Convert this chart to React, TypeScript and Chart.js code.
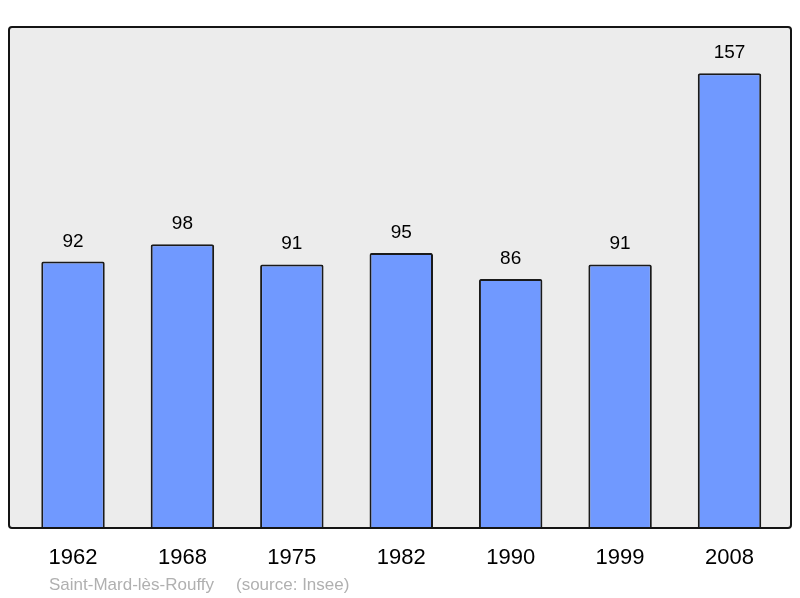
import React, { useEffect, useRef } from "react";
import { Chart, registerables } from "chart.js";
Chart.register(...registerables);

const years = ["1962", "1968", "1975", "1982", "1990", "1999", "2008"];
const population = [92, 98, 91, 95, 86, 91, 157];
const commune = "Saint-Mard-lès-Rouffy";
const source = "(source: Insee)";

const FONT = "'Liberation Sans', Arial, sans-serif";

export default function App() {
  const ref = useRef<HTMLCanvasElement>(null);
  useEffect(() => {
    if (!ref.current) return;
    const framePlugin = {
      id: "frame",
      beforeDatasetsDraw(chart: any) {
        const { ctx, chartArea: a } = chart;
        ctx.save();
        ctx.beginPath();
        ctx.roundRect(a.left, a.top, a.right - a.left, a.bottom - a.top, 3);
        ctx.fillStyle = "#ececec";
        ctx.fill();
        ctx.restore();
      },
      afterDatasetsDraw(chart: any) {
        const { ctx, chartArea: a } = chart;
        ctx.save();
        ctx.beginPath();
        ctx.roundRect(a.left, a.top, a.right - a.left, a.bottom - a.top, 3);
        ctx.lineWidth = 2;
        ctx.strokeStyle = "#141414";
        ctx.stroke();
        const meta = chart.getDatasetMeta(0);
        ctx.font = `19px ${FONT}`;
        ctx.textAlign = "center";
        ctx.textBaseline = "alphabetic";
        ctx.fillStyle = "#000";
        meta.data.forEach((el: any, i: number) => {
          ctx.fillText(String(population[i]), el.x, el.y - 15);
        });
        ctx.font = `17px ${FONT}`;
        ctx.fillStyle = "#b0b0b0";
        ctx.textAlign = "left";
        ctx.textBaseline = "middle";
        ctx.fillText(commune, a.left + 40, a.bottom + 57);
        ctx.fillText(source, a.left + 227, a.bottom + 57);
        ctx.restore();
      },
    };
    const chart = new Chart(ref.current, {
      type: "bar",
      data: {
        datasets: [
          {
            data: population.map((v, i) => ({ x: i, y: v })),
            backgroundColor: "#7099ff",
            borderColor: "#1a1a1a",
            borderWidth: 2,
            borderRadius: 2,
            borderSkipped: "bottom",
            barPercentage: 0.58,
            categoryPercentage: 1,
          },
        ],
      },
      options: {
        animation: false,
        responsive: false,
        layout: { padding: { left: 9, right: 9, top: 27, bottom: 0 } },
        plugins: { legend: { display: false }, tooltip: { enabled: false } },
        scales: {
          x: {
            type: "linear",
            offset: false,
            min: -0.585,
            max: 6.562,
            grid: { display: false, drawTicks: false, offset: false },
            border: { display: false },
            afterBuildTicks: (scale: any) => {
              scale.ticks = years.map((_, i) => ({ value: i }));
            },
            afterFit: (scale: any) => {
              scale.height = 70;
            },
            ticks: {
              autoSkip: false,
              maxRotation: 0,
              padding: 17,
              color: "#000",
              font: { family: FONT, size: 22 },
              callback: (v: any) => years[v] ?? "",
            },
          },
          y: {
            display: false,
            min: 0,
            max: 173,
          },
        },
      },
      plugins: [framePlugin],
    });
    return () => chart.destroy();
  }, []);
  return (
    <div style={{ position: "absolute", left: 0, top: 0, width: 800, height: 598, background: "#fff" }}>
      <canvas ref={ref} width={800} height={598} />
    </div>
  );
}
